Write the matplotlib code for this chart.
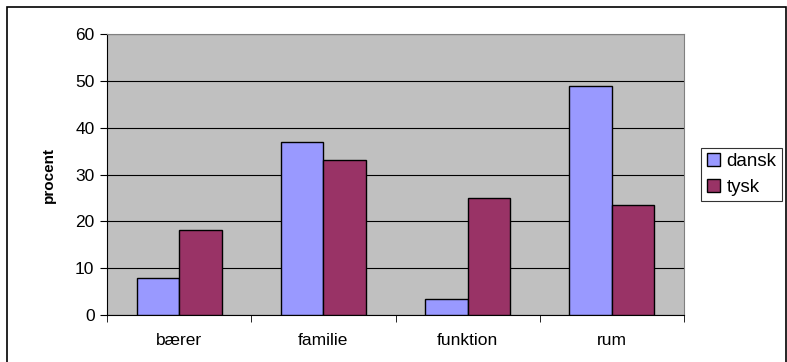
import numpy as np
import matplotlib.pyplot as plt
from matplotlib.patches import Rectangle

plt.rcParams['font.family'] = ['Liberation Sans', 'DejaVu Sans']

categories = ['bærer', 'familie', 'funktion', 'rum']
dansk = [8.0, 37.0, 3.4, 49.0]
tysk = [18.1, 33.0, 25.0, 23.4]

fig = plt.figure(figsize=(7.87, 3.62), dpi=100)
ax = fig.add_axes([107/787, 1 - 315/362, (684-107)/787, (315-34)/362])

# outer chart border
fig.patches.append(Rectangle((7/787, -0.05), 779/787, 1 - 7/362 + 0.05,
                             transform=fig.transFigure, fill=False,
                             edgecolor='black', linewidth=1.2))

x = np.arange(len(categories))
w = 0.295
ax.set_facecolor('#c0c0c0')
ax.bar(x - w/2, dansk, w, color='#9999ff', edgecolor='black', linewidth=1.0,
       label='dansk', zorder=3)
ax.bar(x + w/2, tysk, w, color='#993366', edgecolor='black', linewidth=1.0,
       label='tysk', zorder=3)

ax.set_xlim(-0.5, len(categories) - 0.5)
ax.set_ylim(0, 60)
ax.set_yticks(range(0, 61, 10))
ax.yaxis.grid(True, color='black', linewidth=0.8, zorder=1)
ax.set_axisbelow(True)

ax.set_xticks(x)
ax.set_xticklabels(categories, fontsize=12.5)
ax.set_xticks(np.arange(len(categories) + 1) - 0.5, minor=True)
ax.tick_params(axis='x', which='major', length=0, pad=13)
ax.tick_params(axis='x', which='minor', length=5, direction='out', color='black')
ax.tick_params(axis='y', length=5, direction='out', labelsize=12.5, pad=4)

for s in ['top', 'right']:
    ax.spines[s].set_color('#808080')
for s in ['left', 'bottom']:
    ax.spines[s].set_color('black')

ax.set_ylabel('procent', fontsize=11, fontweight='bold', labelpad=14)

leg = ax.legend(loc='center left', bbox_to_anchor=(1.03, 0.5), fontsize=13.5,
                frameon=True, fancybox=False, edgecolor='black',
                handlelength=0.7, handleheight=0.7, handletextpad=0.35,
                borderpad=0.3, labelspacing=0.45, borderaxespad=0)
leg.get_frame().set_linewidth(0.8)

fig.savefig('out.png', dpi=100)
